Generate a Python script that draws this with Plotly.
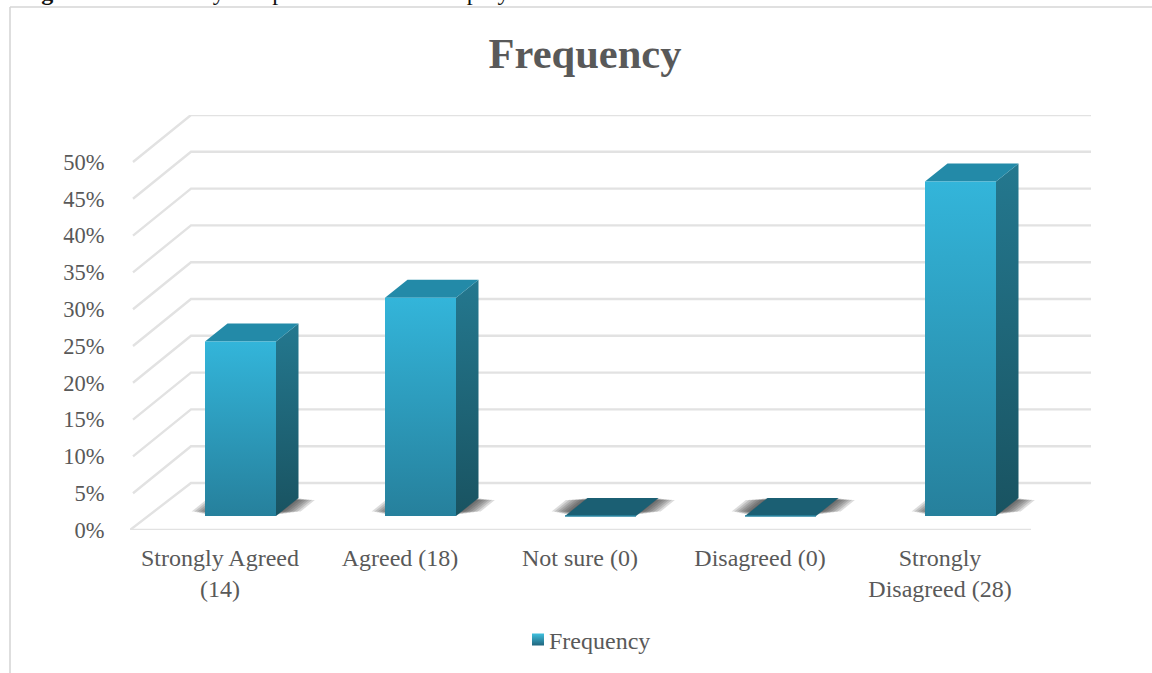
import plotly.graph_objects as go

# Chart content
CATEGORIES = ["Strongly Agreed<br>(14)", "Agreed (18)", "Not sure (0)", "Disagreed (0)", "Strongly<br>Disagreed (28)"]
PERCENT = [24, 30, 0, 0, 46]
TICKS = [0, 5, 10, 15, 20, 25, 30, 35, 40, 45, 50]
TICK_TEXT = [f"{t}%" for t in TICKS]
TITLE = "Frequency"
CAPTION = "<b>Figure 15:</b> Monetary compensation makes employees work harder"

# Plot area in page pixels
W, H = 1152, 673
LEFT, RIGHT, TOP, BOTTOM = 130, 1091, 115, 530
PX_PER_CAT = 180.0
PX_PER_PCT = 7.36
FONT = "Liberation Serif"
TEXT = "#595959"
GRID = "#e2e2e2"


def cx(px):
    return px / PX_PER_CAT


def cy(px):
    return px / PX_PER_PCT


def page_x(px):
    return (px - LEFT) / (RIGHT - LEFT)


def page_y(px):
    return (BOTTOM - px) / (BOTTOM - TOP)


# Oblique projection offsets, in axis units
WALL_DX, WALL_DY = cx(61), cy(47)
FRONT_END = cx(1031 - 220)
BAR_L, BAR_R = cx(-15), cx(56)
BAR_DX, BAR_DY = cx(22.5), cy(18)
BAR_LIFT = cy(14)
BAR_SHRINK = 0.988  # bars stand behind the front plane, so they project a little shorter

x_min = cx(LEFT - 220)
x_max = cx(RIGHT - 220)
y_max = (BOTTOM - TOP) / PX_PER_PCT

fig = go.Figure()


def poly(xs, ys, fill=None, gradient=None):
    kw = dict(fillgradient=gradient) if gradient else dict(fillcolor=fill)
    fig.add_trace(go.Scatter(
        x=xs + xs[:1], y=ys + ys[:1], mode="lines", fill="toself",
        line=dict(color="rgba(0,0,0,0)", width=0),
        showlegend=False, hoverinfo="skip", **kw))


def vgrad(bottom, top):
    return dict(type="vertical", colorscale=[[0, bottom], [1, top]])


# Floor and back wall lines
for t in TICKS:
    start = x_min if t == 0 else x_min + cx(3)
    xs = [start, x_min + WALL_DX, x_max]
    ys = [t, t + WALL_DY, t + WALL_DY]
    fig.add_trace(go.Scatter(x=xs, y=ys, mode="lines", line=dict(color=GRID, width=2.4),
                             showlegend=False, hoverinfo="skip"))
fig.add_trace(go.Scatter(x=[x_min, FRONT_END], y=[0, 0], mode="lines",
                         line=dict(color=GRID, width=2.4), showlegend=False, hoverinfo="skip"))

# Soft contact shadows on the floor, built up from stacked translucent layers
SHADOW_LAYERS = [(19, 3.5), (16, 3), (13, 2.5), (10, 2), (7, 1.5), (4, 1), (1, 0.5)]
for i in range(len(PERCENT)):
    for spread_px, inset_px in SHADOW_LAYERS:
        s, d = cx(spread_px), cy(inset_px)
        y_front = BAR_LIFT + cy(1) + d
        y_back = BAR_LIFT + BAR_DY - d * 0.6
        # keep the slant of the footprint while the layer narrows vertically
        skew_f = BAR_DX * (y_front - BAR_LIFT) / BAR_DY
        skew_b = BAR_DX * (y_back - BAR_LIFT) / BAR_DY
        xs = [i + BAR_L - s + skew_f, i + BAR_R + s + skew_f,
              i + BAR_R + s + skew_b, i + BAR_L - s + skew_b]
        poly(xs, [y_front, y_front, y_back, y_back], fill="rgba(50,50,50,0.17)")

# Each column: side face, top face, front face
for i, v in enumerate(PERCENT):
    y0 = BAR_LIFT
    y1 = BAR_LIFT + v * BAR_SHRINK
    l, r = i + BAR_L, i + BAR_R
    if v > 0:
        poly([r, r + BAR_DX, r + BAR_DX, r], [y0, y0 + BAR_DY, y1 + BAR_DY, y1],
             gradient=vgrad("#195361", "#24788f"))
    top_col = "#238aa8" if v > 0 else "#1b5f73"
    poly([l, r, r + BAR_DX, l + BAR_DX], [y1, y1, y1 + BAR_DY, y1 + BAR_DY], fill=top_col)
    if v > 0:
        poly([l, r, r, l], [y0, y0, y1, y1], gradient=vgrad("#26809c", "#33b5da"))
    else:
        fig.add_trace(go.Scatter(x=[l, r], y=[y0, y0], mode="lines",
                                 line=dict(color="#2b87a3", width=1.5),
                                 showlegend=False, hoverinfo="skip"))

# Legend entry
fig.add_trace(go.Scatter(
    x=[None], y=[None], mode="markers", name=TITLE, showlegend=True,
    marker=dict(symbol="square", size=12, color="#3fc0de",
                gradient=dict(type="vertical", color="#20647c"))))

FRAME = dict(color="#d6d6d6", width=1.6)
fig.update_layout(
    width=W, height=H,
    margin=dict(l=LEFT, r=W - RIGHT, t=TOP, b=H - BOTTOM, pad=0, autoexpand=False),
    paper_bgcolor="white", plot_bgcolor="white",
    font=dict(family=FONT, size=24, color=TEXT),
    xaxis=dict(range=[x_min, x_max], tickmode="array", tickvals=list(range(len(CATEGORIES))),
               ticktext=CATEGORIES, showgrid=False, zeroline=False, showline=False,
               ticks="outside", ticklen=6, tickcolor="rgba(0,0,0,0)", automargin=False,
               tickangle=0, tickfont=dict(family=FONT, size=24, color=TEXT)),
    yaxis=dict(range=[0, y_max], tickmode="array", tickvals=TICKS, ticktext=TICK_TEXT,
               showgrid=False, zeroline=False, showline=False,
               ticks="outside", ticklen=20, tickcolor="rgba(0,0,0,0)", automargin=False,
               tickfont=dict(family=FONT, size=22.5, color=TEXT)),
    title=dict(text=f"<b>{TITLE}</b>", x=585 / W, xanchor="center", xref="container",
               y=1 - 53 / H, yanchor="middle", yref="container",
               font=dict(family=FONT, size=42.5, color=TEXT)),
    legend=dict(x=page_x(509), xanchor="left", y=page_y(640), yanchor="middle",
                orientation="h", font=dict(family=FONT, size=24, color=TEXT),
                bgcolor="rgba(0,0,0,0)"),
    # Frame around the chart
    shapes=[
        dict(type="line", xref="paper", yref="paper", x0=page_x(10), x1=page_x(W),
             y0=page_y(7), y1=page_y(7), line=FRAME),
        dict(type="line", xref="paper", yref="paper", x0=page_x(10), x1=page_x(10),
             y0=page_y(7), y1=page_y(H), line=FRAME),
    ],
    annotations=[dict(text=CAPTION, xref="paper", yref="paper", showarrow=False,
                      x=page_x(18), xanchor="left", y=page_y(0), yanchor="bottom", yshift=-7,
                      font=dict(family=FONT, size=24, color="#111111"))],
)

# Tuck the legend swatch in next to its label
SWATCH_JS = ("document.querySelectorAll('.legendpoints')"
             ".forEach(function(g){g.setAttribute('transform','translate(9,0)');});")
fig.write_html("out.html", config={"displayModeBar": False}, post_script=SWATCH_JS)
